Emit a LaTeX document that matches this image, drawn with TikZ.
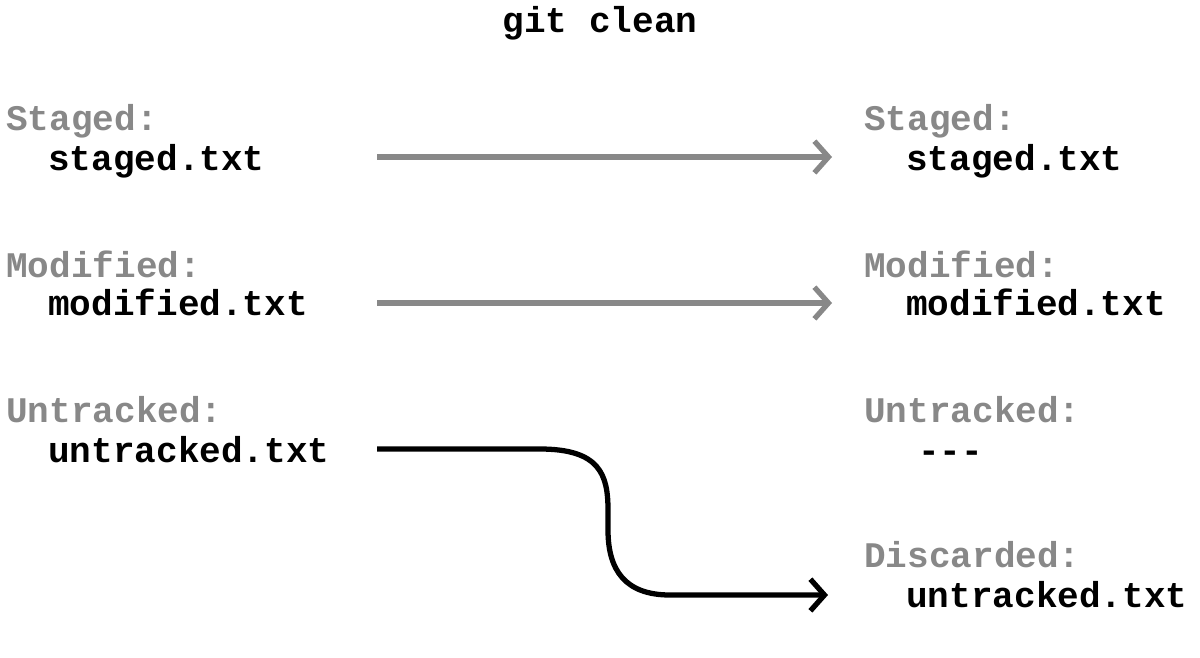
\documentclass[tikz,border=0pt]{standalone}
\usepackage{fontspec}
\setmonofont{Liberation Mono}
\usetikzlibrary{arrows.meta,positioning}
\definecolor{labelgray}{HTML}{888888}
\begin{document}
\begin{tikzpicture}[
    x=0.02cm, y=-0.02cm,
    txt/.style={font=\fontsize{20.5}{24}\selectfont\ttfamily\bfseries, anchor=base west, inner sep=0pt},
    headnode/.style={txt, text=labelgray},
    filenode/.style={txt, text=black},
    flow/.style={line width=3pt, -{Straight Barb[length=8pt, width=18pt, line width=3pt]}}
]
\useasboundingbox (0,0) rectangle (1200,657);

% Title
\node[txt, anchor=base] (title) at (600,32) {git clean};

% Left column
\node[headnode] (stagedL) at (6,130) {Staged:};
\node[filenode] (stagedF) at (48,170) {staged.txt};
\node[headnode] (modL) at (6,277) {Modified:};
\node[filenode] (modF) at (48,315) {modified.txt};
\node[headnode] (untrL) at (6,422) {Untracked:};
\node[filenode] (untrF) at (48,462) {untracked.txt};

% Right column
\node[headnode] (stagedR) at (864,130) {Staged:};
\node[filenode] (stagedRF) at (906,170) {staged.txt};
\node[headnode] (modR) at (864,277) {Modified:};
\node[filenode] (modRF) at (906,315) {modified.txt};
\node[headnode] (untrR) at (864,422) {Untracked:};
\node[filenode] (untrRF) at (918,462) {---};
\node[headnode] (discR) at (864,567) {Discarded:};
\node[filenode] (discRF) at (906,607) {untracked.txt};

% Connector ends
\coordinate (s1) at (377,157);
\coordinate (s2) at (832,157);
\coordinate (m1) at (377,303);
\coordinate (m2) at (832,303);
\coordinate (u1) at (377,449);
\coordinate (u2) at (828,595);

% Arrows
\draw[flow, labelgray] (s1) -- (s2);
\draw[flow, labelgray] (m1) -- (m2);
\draw[flow, black] (u1) -- (540,449)
    .. controls (600,449) and (608,475) .. (608,510) -- (608,530)
    .. controls (608,570) and (625,595) .. (670,595) -- (u2);
\end{tikzpicture}
\end{document}
